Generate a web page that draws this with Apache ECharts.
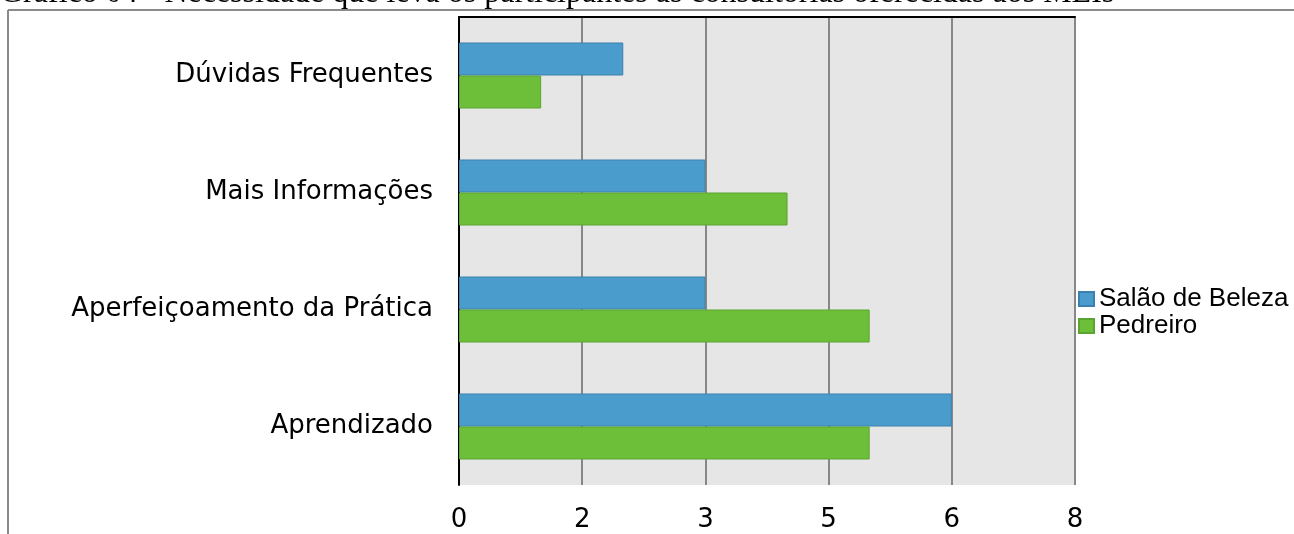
<!DOCTYPE html>
<html>
<head>
<meta charset="utf-8">
<script src="https://cdn.jsdelivr.net/npm/echarts@6/dist/echarts.min.js"></script>
<style>
  html, body { margin: 0; padding: 0; background: #fff; }
  #chart { width: 1294px; height: 534px; }
</style>
</head>
<body>
<div id="chart"></div>
<script>
const titleText = 'Gráfico 04 - Necessidade que leva os participantes às consultorias oferecidas aos MEIs';
const categories = ['Dúvidas Frequentes', 'Mais Informações', 'Aperfeiçoamento da Prática', 'Aprendizado'];
const seriesNames = ['Salão de Beleza', 'Pedreiro'];
const salaoValues = [2, 3, 3, 6];
const pedreiroValues = [1, 4, 5, 5];
const axisMin = 0;
const axisMax = 7.5;
const axisInterval = 1.5;

const chart = echarts.init(document.getElementById('chart'));
const labelFont = '"DejaVu Sans", Verdana, sans-serif';

chart.setOption({
  animation: false,
  backgroundColor: '#ffffff',
  graphic: [
    {
      type: 'text', left: 0, top: -22, silent: true,
      style: { text: titleText, font: '32px "Liberation Serif", "Times New Roman", serif', fill: '#000' }
    },
    {
      type: 'line', silent: true,
      shape: { x1: 8, y1: 10, x2: 1294, y2: 10 },
      style: { stroke: '#8a8a8a', lineWidth: 2 }
    },
    {
      type: 'line', silent: true,
      shape: { x1: 8, y1: 10, x2: 8, y2: 534 },
      style: { stroke: '#8a8a8a', lineWidth: 2 }
    }
  ],
  grid: {
    left: 459, top: 17, width: 616, height: 468,
    show: true, backgroundColor: '#e6e6e6', borderWidth: 0,
    containLabel: false
  },
  legend: {
    orient: 'vertical',
    left: 1078, top: 286, padding: 0,
    itemWidth: 15, itemHeight: 14, itemGap: 1,
    icon: 'rect',
    data: seriesNames,
    textStyle: { fontFamily: '"Liberation Sans", Arial, sans-serif', fontSize: 26, color: '#000', lineHeight: 26 }
  },
  xAxis: [
    {
      type: 'value', min: axisMin, max: axisMax, interval: axisInterval,
      axisLine: { show: false }, axisTick: { show: false },
      splitLine: { show: true, lineStyle: { color: '#878787', width: 2 } },
      axisLabel: {
        formatter: v => String(Math.round(v)),
        fontFamily: labelFont, fontSize: 26, color: '#000', margin: 22
      }
    },
    {
      type: 'value', position: 'top', min: axisMin, max: axisMax, interval: axisInterval,
      axisLine: { show: true, lineStyle: { color: '#000', width: 2 } },
      axisTick: { show: false }, axisLabel: { show: false }, splitLine: { show: false }
    }
  ],
  yAxis: {
    type: 'category', inverse: true, data: categories,
    axisLine: { show: true, lineStyle: { color: '#000', width: 2 } },
    axisTick: { show: false },
    axisLabel: { fontFamily: labelFont, fontSize: 26, color: '#000', margin: 26, padding: [4, 0, 0, 0] }
  },
  series: [
    {
      name: seriesNames[0], type: 'bar', data: salaoValues, barWidth: 33, barGap: '0%',
      itemStyle: { color: '#4a9ccc', borderColor: '#3b80ae', borderWidth: 1 }
    },
    {
      name: seriesNames[1], type: 'bar', data: pedreiroValues, barWidth: 33, barGap: '0%',
      itemStyle: { color: '#6dbf3a', borderColor: '#5aa530', borderWidth: 1 }
    }
  ]
});
</script>
</body>
</html>
